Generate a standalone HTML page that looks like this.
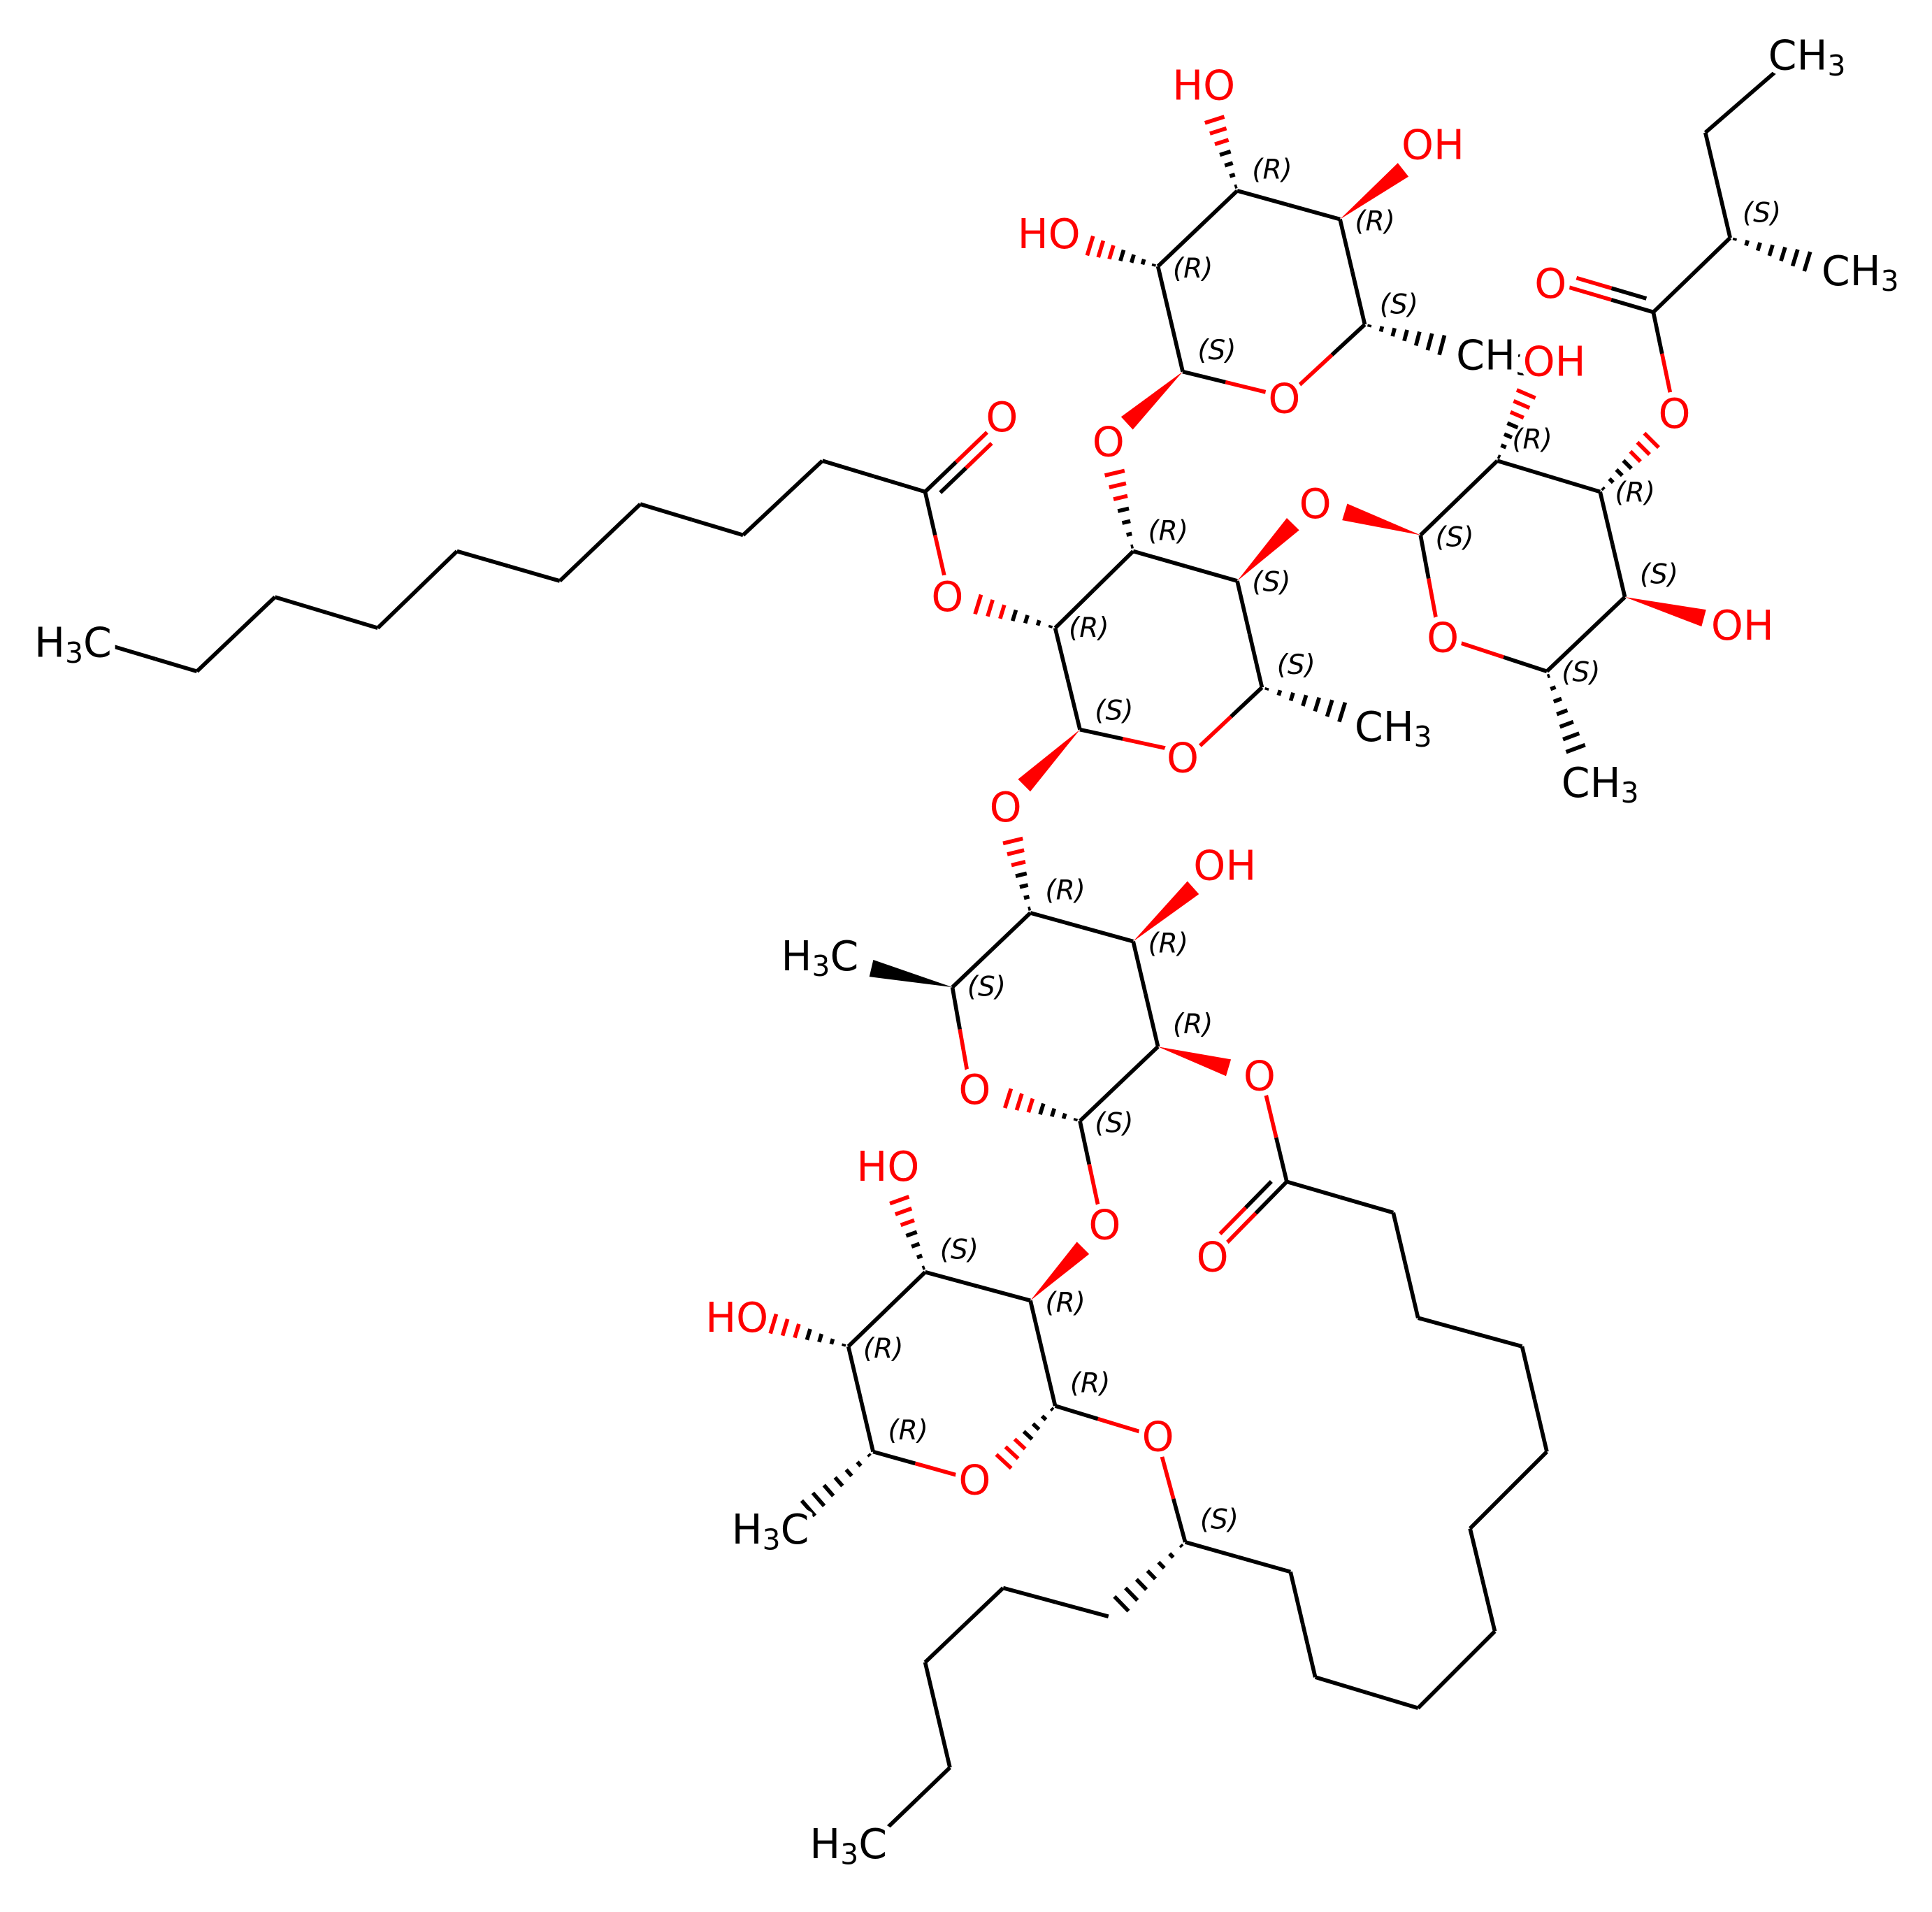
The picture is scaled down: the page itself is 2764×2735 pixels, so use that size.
<!DOCTYPE html>
<html><head><meta charset="utf-8"><style>
html,body{margin:0;padding:0;background:#fff;}
svg{display:block;}
.a{font-family:"DejaVu Sans","Liberation Sans",sans-serif;font-size:33px;dominant-baseline:central;paint-order:stroke;stroke:#fff;stroke-width:9px;}
.r{fill:#ff0000;}
.k{fill:#000;}
.s{font-family:"DejaVu Sans","Liberation Sans",sans-serif;font-size:22px;font-style:italic;fill:#000;dominant-baseline:central;}
</style></head><body>
<svg id="m" width="2764" height="2735" viewBox="0 0 1560 1543.6" xmlns="http://www.w3.org/2000/svg">
<g transform="translate(-3,-3)">
<g id="b"></g>
<g id="t">
<text class="a k" x="62" y="522" text-anchor="middle">H<tspan font-size="23" dy="8">3</tspan><tspan dy="-8">C</tspan></text>
<text class="a r" x="812" y="340" text-anchor="middle">O</text>
<text class="a r" x="768" y="485" text-anchor="middle">O</text>
<text class="a r" x="958" y="615" text-anchor="middle">O</text>
<text class="a k" x="1128" y="590" text-anchor="middle">CH<tspan font-size="23" dy="8">3</tspan></text>
<text class="a r" x="1065" y="410" text-anchor="middle">O</text>
<text class="a r" x="898" y="360" text-anchor="middle">O</text>
<text class="a r" x="815" y="655" text-anchor="middle">O</text>
<text class="a r" x="1040" y="325" text-anchor="middle">O</text>
<text class="a r" x="850" y="192" text-anchor="middle">HO</text>
<text class="a r" x="975" y="72" text-anchor="middle">HO</text>
<text class="a r" x="1160" y="120" text-anchor="middle">OH</text>
<text class="a k" x="1210" y="290" text-anchor="middle">CH<tspan font-size="23" dy="8">3</tspan></text>
<text class="a r" x="1258" y="295" text-anchor="middle">OH</text>
<text class="a r" x="1168" y="518" text-anchor="middle">O</text>
<text class="a r" x="1355" y="337" text-anchor="middle">O</text>
<text class="a r" x="1410" y="508" text-anchor="middle">OH</text>
<text class="a k" x="1295" y="635" text-anchor="middle">CH<tspan font-size="23" dy="8">3</tspan></text>
<text class="a r" x="1255" y="232" text-anchor="middle">O</text>
<text class="a k" x="1505" y="222" text-anchor="middle">CH<tspan font-size="23" dy="8">3</tspan></text>
<text class="a k" x="1462" y="48" text-anchor="middle">CH<tspan font-size="23" dy="8">3</tspan></text>
<text class="a k" x="665" y="775" text-anchor="middle">H<tspan font-size="23" dy="8">3</tspan><tspan dy="-8">C</tspan></text>
<text class="a r" x="992" y="702" text-anchor="middle">OH</text>
<text class="a r" x="790" y="883" text-anchor="middle">O</text>
<text class="a r" x="1020" y="872" text-anchor="middle">O</text>
<text class="a r" x="895" y="992" text-anchor="middle">O</text>
<text class="a r" x="982" y="1018" text-anchor="middle">O</text>
<text class="a r" x="938" y="1163" text-anchor="middle">O</text>
<text class="a r" x="790" y="1198" text-anchor="middle">O</text>
<text class="a r" x="720" y="945" text-anchor="middle">HO</text>
<text class="a r" x="598" y="1067" text-anchor="middle">HO</text>
<text class="a k" x="625" y="1238" text-anchor="middle">H<tspan font-size="23" dy="8">3</tspan><tspan dy="-8">C</tspan></text>
<text class="a k" x="688" y="1492" text-anchor="middle">H<tspan font-size="23" dy="8">3</tspan><tspan dy="-8">C</tspan></text>
<text class="s" x="866" y="510">(R)</text>
<text class="s" x="930" y="432">(R)</text>
<text class="s" x="1014" y="473">(S)</text>
<text class="s" x="1034" y="540">(S)</text>
<text class="s" x="887" y="577">(S)</text>
<text class="s" x="970" y="286">(S)</text>
<text class="s" x="950" y="220">(R)</text>
<text class="s" x="1014" y="140">(R)</text>
<text class="s" x="1097" y="182">(R)</text>
<text class="s" x="1117" y="249">(S)</text>
<text class="s" x="1162" y="437">(S)</text>
<text class="s" x="1224" y="358">(R)</text>
<text class="s" x="1307" y="401">(R)</text>
<text class="s" x="1327" y="467">(S)</text>
<text class="s" x="1264" y="546">(S)</text>
<text class="s" x="1410" y="175">(S)</text>
<text class="s" x="847" y="722">(R)</text>
<text class="s" x="930" y="765">(R)</text>
<text class="s" x="950" y="830">(R)</text>
<text class="s" x="887" y="910">(S)</text>
<text class="s" x="784" y="800">(S)</text>
<text class="s" x="867" y="1120">(R)</text>
<text class="s" x="847" y="1055">(R)</text>
<text class="s" x="762" y="1012">(S)</text>
<text class="s" x="700" y="1092">(R)</text>
<text class="s" x="720" y="1158">(R)</text>
<text class="s" x="972" y="1230">(S)</text>
</g>
</g>
</svg>
<script>
var g=document.getElementById('b'),NS='http://www.w3.org/2000/svg';
function L(x1,y1,x2,y2,c){var e=document.createElementNS(NS,'line');e.setAttribute('x1',x1);e.setAttribute('y1',y1);e.setAttribute('x2',x2);e.setAttribute('y2',y2);e.setAttribute('stroke',c);e.setAttribute('stroke-width',3.2);g.appendChild(e);}
function B(a,b,r){
 var mx=(a[0]+b[0])/2,my=(a[1]+b[1])/2;
 L(a[0],a[1],mx,my,(r&2)?'#f00':'#000');L(mx,my,b[0],b[1],(r&1)?'#f00':'#000');}
function D(a,b,r){B(a,b,r);var dx=b[0]-a[0],dy=b[1]-a[1],l=Math.hypot(dx,dy),nx=-dy/l*9,ny=dx/l*9;
 var s=[a[0]+nx+dx*.12,a[1]+ny+dy*.12],e=[b[0]+nx-dx*.05,b[1]+ny-dy*.05];B(s,e,r);}
function W(a,b,c){var dx=b[0]-a[0],dy=b[1]-a[1],l=Math.hypot(dx,dy),nx=-dy/l*7,ny=dx/l*7;
 var f=0.85,ex=a[0]+dx*f,ey=a[1]+dy*f;
 var p=document.createElementNS(NS,'polygon');p.setAttribute('points',a[0]+','+a[1]+' '+(ex+nx)+','+(ey+ny)+' '+(ex-nx)+','+(ey-ny));p.setAttribute('fill',c);g.appendChild(p);}
function H(a,b,c){var dx=b[0]-a[0],dy=b[1]-a[1],l=Math.hypot(dx,dy),ux=-dy/l,uy=dx/l;
 for(var i=0;i<7;i++){var t=0.05+i*0.13,w=1+i*1.2,x=a[0]+dx*t,y=a[1]+dy*t;L(x-ux*w,y-uy*w,x+ux*w,y+uy*w,(c&&t>0.45)?'#f00':'#000');}}
var ch=[[95,525],[162,545],[225,485],[308,510],[372,448],[455,472],[520,410],[603,435],[667,375],[750,400]];
for(var i=0;i<ch.length-1;i++)B(ch[i],ch[i+1],0);
D([750,400],[800,352],1);B([750,400],[766,470],1);
H([855,510],[780,487],1);
var A1=[855,510],A2=[918,448],A3=[1002,472],A4=[1022,558],A5=[875,592];
B(A1,A2,0);B(A2,A3,0);B(A3,A4,0);B(A4,[972,605],1);B([944,607],A5,2);B(A5,A1,0);
H(A4,[1100,582],0);W(A3,[1055,418],'#f00');H(A2,[900,372],1);W(A5,[822,645],'#f00');
var B1=[958,303],B2=[938,218],B3=[1002,157],B4=[1085,180],B5=[1105,265];
W(B1,[905,352],'#f00');B(B1,B2,0);B(B2,B3,0);B(B3,B4,0);B(B4,B5,0);B(B5,[1052,314],1);B([1027,320],B1,2);
H(B2,[872,198],1);H(B3,[980,88],1);W(B4,[1145,133],'#f00');H(B5,[1180,285],0);
var C1=[1150,435],C2=[1212,375],C3=[1295,400],C4=[1315,485],C5=[1252,545];
W(C1,[1078,413],'#f00');B(C1,C2,0);B(C2,C3,0);B(C3,C4,0);B(C4,C5,0);B(C5,[1182,522],1);B([1163,505],C1,2);
H(C2,[1240,310],1);H(C3,[1345,350],1);W(C4,[1390,505],'#f00');H(C5,[1280,620],0);
var E=[1338,255];B([1352,322],E,2);D(E,[1270,235],1);B(E,[1400,195],0);H([1400,195],[1475,218],0);B([1400,195],[1380,110],0);B([1380,110],[1440,58],0);
var D1=[835,740],D2=[918,763],D3=[938,848],D4=[875,908],D5=[772,800];
H(D1,[818,670],1);B(D1,D2,0);B(D2,D3,0);B(D3,D4,0);H(D4,[805,886],1);B([784,868],D5,2);B(D5,D1,0);
W(D5,[695,782],'#000');W(D2,[975,712],'#f00');W(D3,[1005,868],'#f00');B(D4,[890,978],1);
var F=[1042,957];B([1025,886],F,2);D(F,[992,1008],1);
var ch2=[F,[1128,982],[1148,1067],[1232,1090],[1252,1175],[1190,1237],[1210,1320],[1148,1382],[1065,1357],[1045,1272],[960,1248]];
for(i=0;i<ch2.length-1;i++)B(ch2[i],ch2[i+1],0);
B([960,1248],[941,1178],1);
var E1=[855,1138],E2=[835,1053],E3=[750,1030],E4=[688,1090],E5=[708,1175];
B([924,1159],E1,2);B(E1,E2,0);W(E2,[885,1003],'#f00');B(E2,E3,0);B(E3,E4,0);B(E4,E5,0);B(E5,[776,1194],1);H(E1,[805,1192],1);
H(E3,[725,960],1);H(E4,[615,1068],1);H(E5,[645,1230],0);
H([960,1248],[898,1308],0);B([898,1308],[813,1285],0);B([813,1285],[750,1345],0);B([750,1345],[770,1430],0);B([770,1430],[718,1480],0);
</script>
</body></html>
